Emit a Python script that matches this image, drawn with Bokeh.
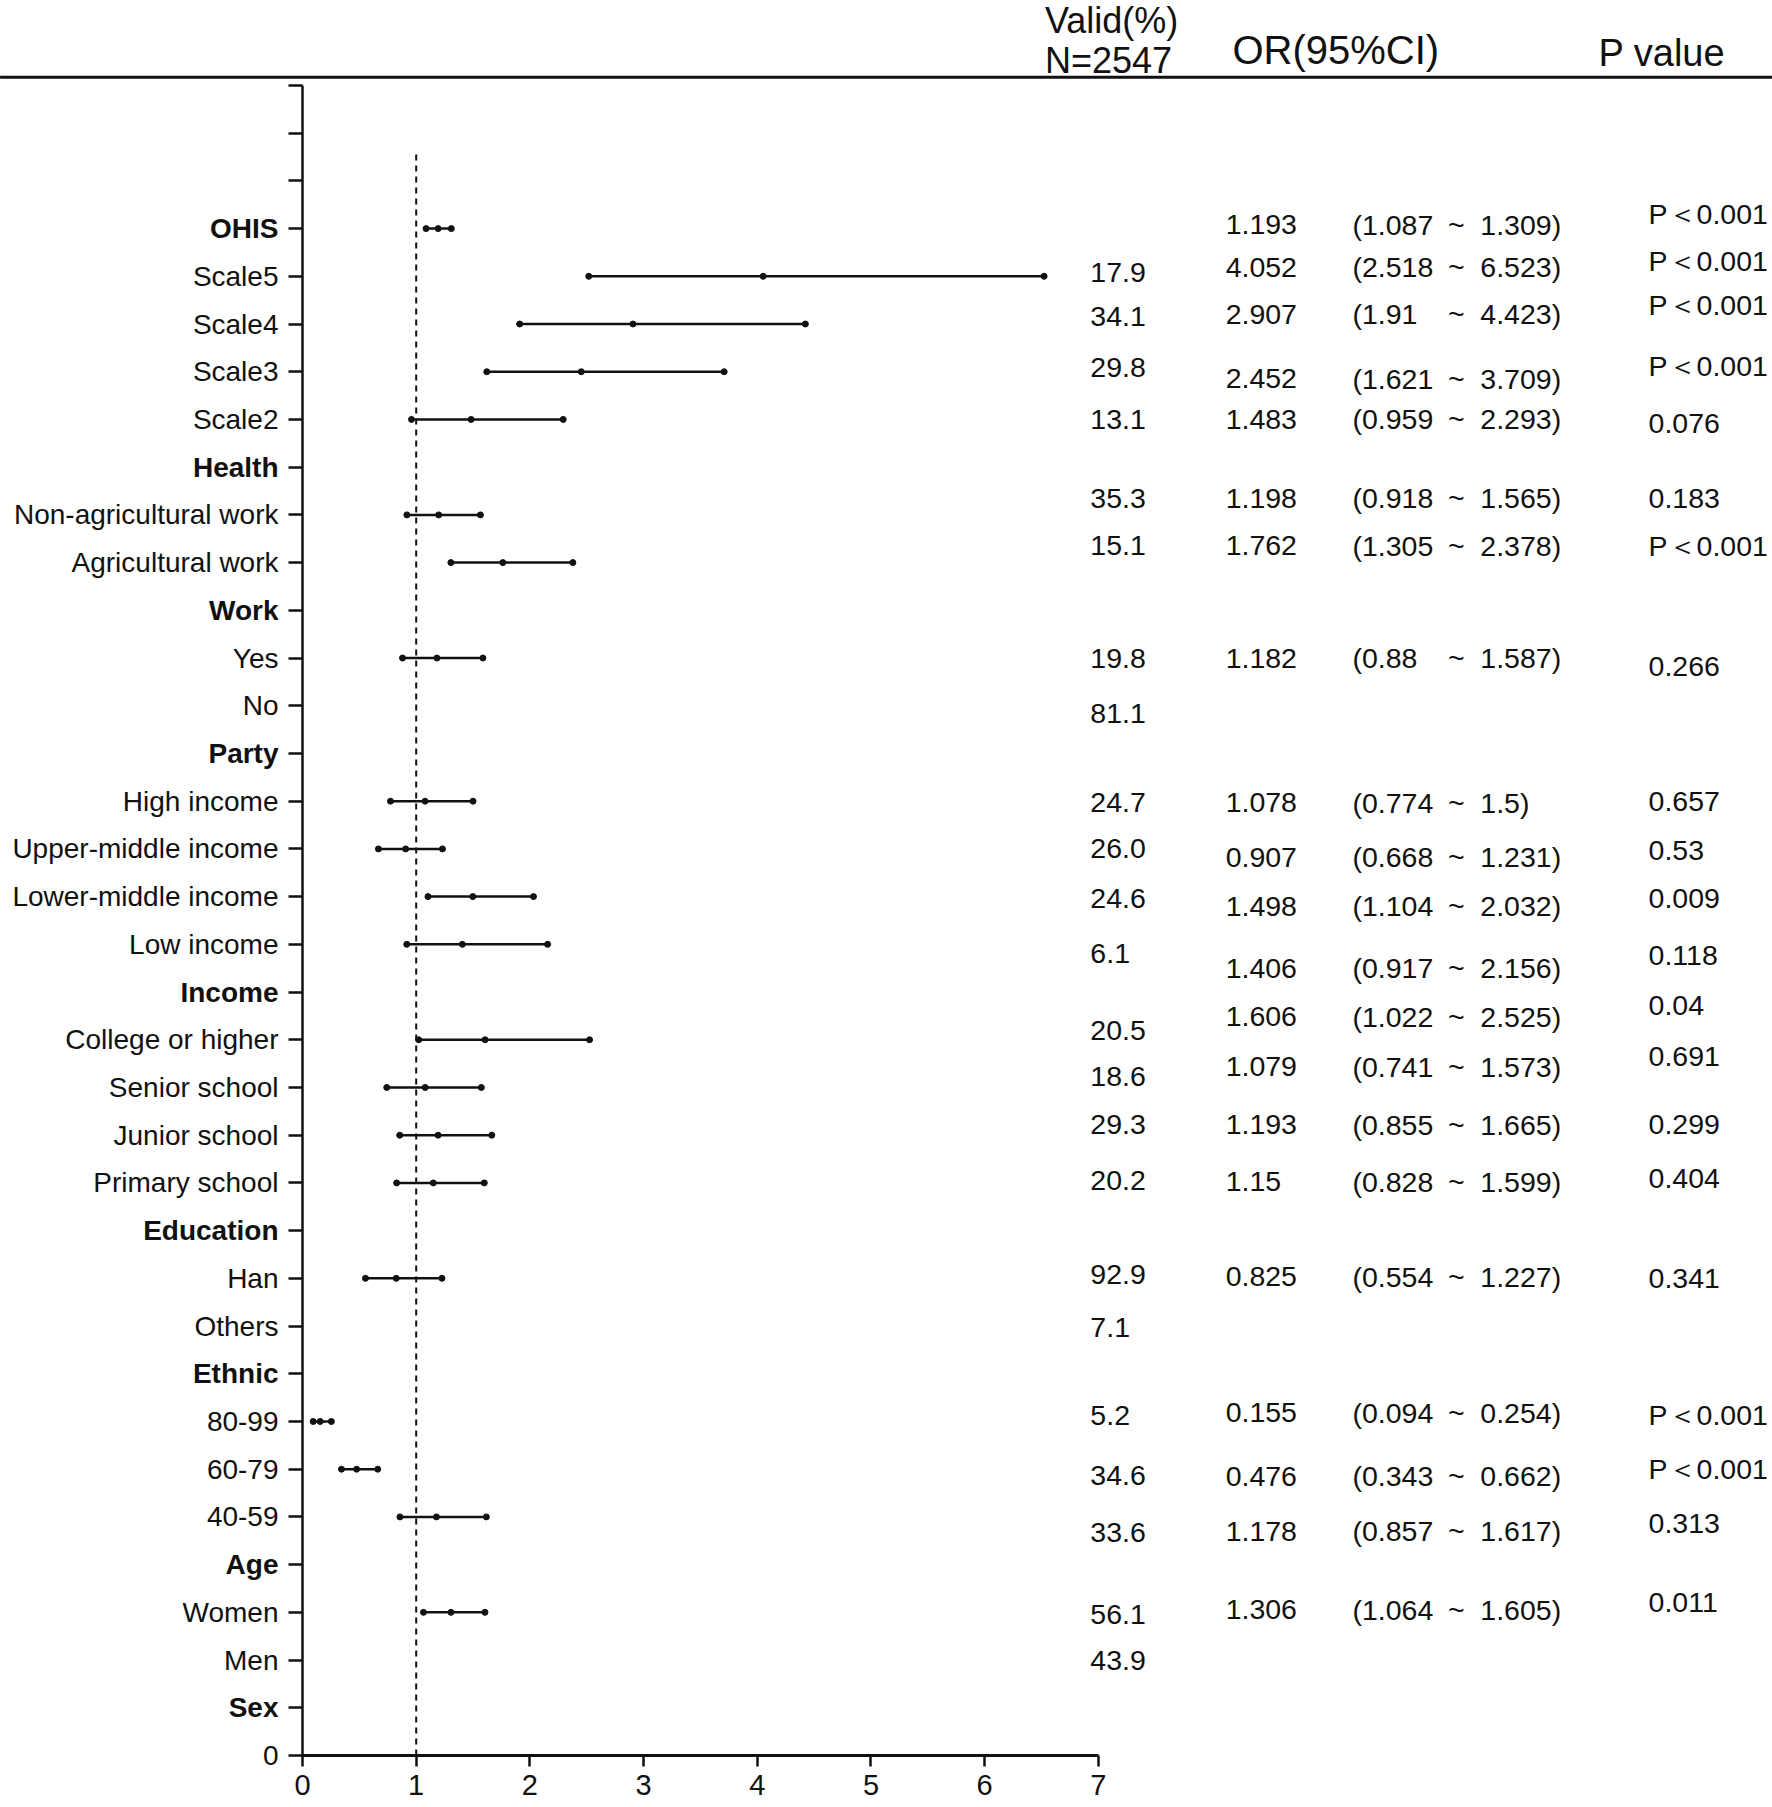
from bokeh.plotting import figure
from bokeh.models import ColumnDataSource, Range1d, FixedTicker
from bokeh.core.properties import value
from bokeh.embed import file_html
from bokeh.resources import INLINE

# ---------------- data (top row first) ----------------
labels = ["OHIS", "Scale5", "Scale4", "Scale3", "Scale2", "Health",
          "Non-agricultural work", "Agricultural work", "Work", "Yes", "No", "Party",
          "High income", "Upper-middle income", "Lower-middle income", "Low income", "Income",
          "College or higher", "Senior school", "Junior school", "Primary school", "Education",
          "Han", "Others", "Ethnic", "80-99", "60-79", "40-59", "Age", "Women", "Men", "Sex"]
group_headers = ["OHIS", "Health", "Work", "Party", "Income", "Education", "Ethnic", "Age", "Sex"]

valid_pct = [None, 17.9, 34.1, 29.8, 13.1, None, 35.3, 15.1, None, 19.8, 81.1, None,
             24.7, 26.0, 24.6, 6.1, None, 20.5, 18.6, 29.3, 20.2, None,
             92.9, 7.1, None, 5.2, 34.6, 33.6, None, 56.1, 43.9, None]
odds = [1.193, 4.052, 2.907, 2.452, 1.483, None, 1.198, 1.762, None, 1.182, None, None,
        1.078, 0.907, 1.498, 1.406, None, 1.606, 1.079, 1.193, 1.15, None,
        0.825, None, None, 0.155, 0.476, 1.178, None, 1.306, None, None]
ci_low = [1.087, 2.518, 1.91, 1.621, 0.959, None, 0.918, 1.305, None, 0.88, None, None,
          0.774, 0.668, 1.104, 0.917, None, 1.022, 0.741, 0.855, 0.828, None,
          0.554, None, None, 0.094, 0.343, 0.857, None, 1.064, None, None]
ci_high = [1.309, 6.523, 4.423, 3.709, 2.293, None, 1.565, 2.378, None, 1.587, None, None,
           1.5, 1.231, 2.032, 2.156, None, 2.525, 1.573, 1.665, 1.599, None,
           1.227, None, None, 0.254, 0.662, 1.617, None, 1.605, None, None]
p_text = ["P＜0.001", "P＜0.001", "P＜0.001", "P＜0.001", "0.076", None, "0.183", "P＜0.001", None,
          "0.266", None, None, "0.657", "0.53", "0.009", "0.118", None, "0.04", "0.691", "0.299",
          "0.404", None, "0.341", None, None, "P＜0.001", "P＜0.001", "0.313", None, "0.011", None, None]
x_ticks = [0, 1, 2, 3, 4, 5, 6, 7]
REF_OR = 1

# ---------------- layout nudges of the text columns (row units, + = up) ----------------
valid_dy = [0, .08, .16, .09, 0, 0, .35, .35, 0, 0, -.16, 0, -.03, 0, -.04, -.19, 0,
            .2, .22, .23, .04, 0, .08, -.03, 0, .13, -.13, -.32, 0, -.04, 0, 0]
est_dy = [.08, .19, .2, -.15, 0, 0, .35, .35, 0, 0, 0, 0, -.03, -.17, -.2, -.5, 0,
          .48, .43, .22, .02, 0, .03, 0, 0, .18, -.15, -.3, 0, .05, 0, 0]
p_dy = [.31, .33, .39, .13, -.09, 0, .35, .35, 0, -.17, 0, 0, 0, -.04, -.04, -.23, 0,
        .72, .64, .23, .09, 0, 0, 0, 0, .13, 0, -.14, 0, .21, 0, 0]

n = len(labels)
ys = [n - i for i in range(n)]
FONT = "Liberation Sans"
INK = "#111111"

p = figure(width=1772, height=1807, x_range=Range1d(0, 12.93), y_range=Range1d(0, 36.78),
           output_backend="svg", toolbar_location=None,
           min_border_left=302, min_border_right=0, min_border_top=0, min_border_bottom=52)
p.outline_line_color = None
p.grid.visible = False
p.background_fill_color = "white"

# axes
xa = p.xaxis[0]
xa.ticker = FixedTicker(ticks=x_ticks)
xa.bounds = (0, 7)
xa.axis_line_width = 3
xa.axis_line_color = INK
xa.major_tick_line_width = 2.5
xa.major_tick_line_color = INK
xa.major_tick_out = 11
xa.major_tick_in = 0
xa.minor_tick_line_color = None
xa.major_label_standoff = 8
xa.major_label_text_font = FONT
xa.major_label_text_font_size = "29px"
xa.major_label_text_color = INK

ya = p.yaxis[0]
ya.ticker = FixedTicker(ticks=list(range(0, 36)))
ya.bounds = (0, 35)
ya.axis_line_width = 2.5
ya.axis_line_color = INK
ya.major_tick_line_width = 2.5
ya.major_tick_line_color = INK
ya.major_tick_out = 14
ya.major_tick_in = 0
ya.minor_tick_line_color = None
ya.major_label_standoff = 10
ya.major_label_text_font = FONT
ya.major_label_text_font_size = "28px"
ya.major_label_text_color = INK
overrides = {t: "" for t in range(0, 36)}
overrides[0] = "0"
for lab, y in zip(labels, ys):
    overrides[y] = "" if lab in group_headers else lab
ya.major_label_overrides = overrides

# bold group labels (drawn left of the axis, not clipped to the frame)
bold_src = ColumnDataSource(dict(x=[0] * len(group_headers),
                                 y=[ys[labels.index(g)] for g in group_headers],
                                 t=group_headers))
p.text(x="x", y="y", text="t", source=bold_src, x_offset=-24, level="overlay",
       text_align="right", text_baseline="middle", text_font=value(FONT),
       text_font_size="28px", text_font_style="bold", text_color=INK)

# reference line
p.segment(x0=REF_OR, y0=0, x1=REF_OR, y1=33.64, line_color=INK, line_width=2, line_dash="6 5")

# estimates
est = [i for i in range(n) if odds[i] is not None]
est_src = ColumnDataSource(dict(
    y=[ys[i] for i in est], odds=[odds[i] for i in est],
    lo=[ci_low[i] for i in est], hi=[ci_high[i] for i in est],
    ty=[ys[i] + est_dy[i] for i in est],
    or_t=[str(odds[i]) for i in est],
    lo_t=["(" + str(ci_low[i]) for i in est],
    hi_t=[str(ci_high[i]) + ")" for i in est],
    tilde=["~"] * len(est)))
p.segment(x0="lo", y0="y", x1="hi", y1="y", source=est_src, line_color=INK, line_width=2.5)
for col in ("lo", "odds", "hi"):
    p.scatter(x=col, y="y", source=est_src, size=6, color=INK)

txt = dict(text_font=value(FONT), text_font_size="28.5px", text_color=INK, text_baseline="middle")
p.text(x=8.12, y="ty", text="or_t", source=est_src, text_align="left", **txt)
p.text(x=9.235, y="ty", text="lo_t", source=est_src, text_align="left", **txt)
p.text(x=10.15, y="ty", text="tilde", source=est_src, text_align="center", **txt)
p.text(x=10.36, y="ty", text="hi_t", source=est_src, text_align="left", **txt)

vi = [i for i in range(n) if valid_pct[i] is not None]
v_src = ColumnDataSource(dict(ty=[ys[i] + valid_dy[i] for i in vi],
                              t=[f"{valid_pct[i]:.1f}" for i in vi]))
p.text(x=6.93, y="ty", text="t", source=v_src, text_align="left", **txt)

pi = [i for i in range(n) if p_text[i] is not None]
p_src = ColumnDataSource(dict(ty=[ys[i] + p_dy[i] for i in pi], t=[p_text[i] for i in pi]))
p.text(x=11.84, y="ty", text="t", source=p_src, text_align="left", **txt)

# header
hdr = dict(text_font=value(FONT), text_color=INK, text_baseline="middle",
           text_align="left", level="overlay")
p.text(x=[6.53, 6.53], y=[36.37, 35.53], text=["Valid(%)", "N=2547"], text_font_size="36px", **hdr)
p.text(x=[8.18], y=[35.74], text=["OR(95%CI)"], text_font_size="40px", **hdr)
p.text(x=[11.40], y=[35.67], text=["P value"], text_font_size="38px", **hdr)
p.segment(x0=-2.66, y0=35.17, x1=12.93, y1=35.17, line_color=INK, line_width=3, level="overlay")

open("out.html", "w").write(file_html(p, INLINE))
